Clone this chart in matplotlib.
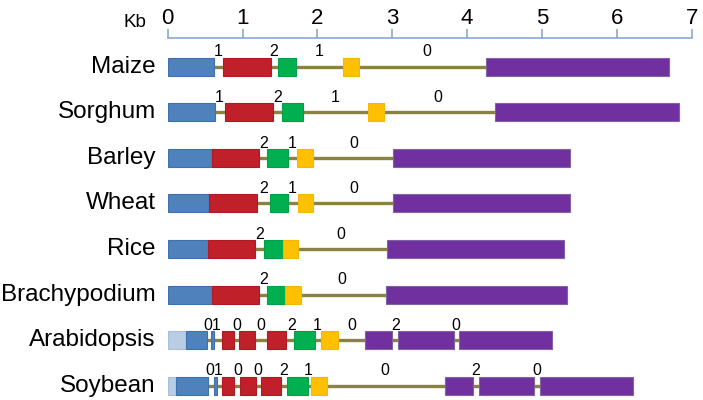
import matplotlib.pyplot as plt
from matplotlib.patches import Rectangle

plt.rcParams['font.family'] = ['Liberation Sans', 'DejaVu Sans']

species = ["Maize", "Sorghum", "Barley", "Wheat", "Rice", "Brachypodium", "Arabidopsis", "Soybean"]

# exons: (start kb, end kb, exon type)
maize_exons = [(0, 0.613, "b"), (0.745, 1.38, "r"), (1.476, 1.711, "g"), (2.343, 2.56, "y"), (4.253, 6.70, "p")]
sorghum_exons = [(0, 0.632, "b"), (0.768, 1.41, "r"), (1.532, 1.806, "g"), (2.678, 2.89, "y"), (4.375, 6.83, "p")]
barley_exons = [(0, 0.59, "b"), (0.59, 1.22, "r"), (1.33, 1.61, "g"), (1.73, 1.94, "y"), (3.01, 5.38, "p")]
wheat_exons = [(0, 0.55, "b"), (0.55, 1.19, "r"), (1.37, 1.61, "g"), (1.74, 1.94, "y"), (3.01, 5.38, "p")]
rice_exons = [(0, 0.54, "b"), (0.54, 1.17, "r"), (1.29, 1.54, "g"), (1.54, 1.74, "y"), (2.93, 5.30, "p")]
brachy_exons = [(0, 0.59, "b"), (0.59, 1.22, "r"), (1.33, 1.57, "g"), (1.57, 1.78, "y"), (2.92, 5.34, "p")]
arabid_exons = [(0, 0.25, "u"), (0.25, 0.52, "b"), (0.58, 0.625, "b"), (0.72, 0.89, "r"), (0.95, 1.17, "r"),
                (1.32, 1.58, "r"), (1.69, 1.97, "g"), (2.05, 2.27, "y"), (2.63, 3.00, "p"), (3.08, 3.82, "p"),
                (3.89, 5.13, "p")]
soy_exons = [(0, 0.11, "u"), (0.11, 0.545, "b"), (0.62, 0.665, "b"), (0.73, 0.89, "r"), (0.97, 1.18, "r"),
             (1.25, 1.51, "r"), (1.59, 1.87, "g"), (1.92, 2.13, "y"), (3.71, 4.08, "p"), (4.16, 4.89, "p"),
             (4.98, 6.22, "p")]

# intron phase labels: (position kb, phase)
maize_phases = [(0.674, "1"), (1.42, "2"), (2.03, "1"), (3.46, "0")]
sorghum_phases = [(0.69, "1"), (1.47, "2"), (2.24, "1"), (3.61, "0")]
barley_phases = [(1.28, "2"), (1.66, "1"), (2.48, "0")]
wheat_phases = [(1.28, "2"), (1.66, "1"), (2.48, "0")]
rice_phases = [(1.23, "2"), (2.31, "0")]
brachy_phases = [(1.28, "2"), (2.32, "0")]
arabid_phases = [(0.59, "01"), (0.92, "0"), (1.245, "0"), (1.65, "2"), (2.0, "1"), (2.46, "0"), (3.05, "2"), (3.85, "0")]
soy_phases = [(0.62, "01"), (0.93, "0"), (1.2, "0"), (1.55, "2"), (1.88, "1"), (2.9, "0"), (4.12, "2"), (4.93, "0")]

genes = [maize_exons, sorghum_exons, barley_exons, wheat_exons, rice_exons, brachy_exons, arabid_exons, soy_exons]
phases = [maize_phases, sorghum_phases, barley_phases, wheat_phases, rice_phases, brachy_phases, arabid_phases, soy_phases]

colors = {"u": "#b9cde5", "b": "#4f81bd", "r": "#c0202a", "g": "#00b050", "y": "#ffc000", "p": "#7030a0"}
edges = {"u": "#a8bfdc", "b": "#3f70b0", "r": "#b01a22", "g": "#00a048", "y": "#f5b800", "p": "#8064a2"}

fig = plt.figure(figsize=(7.03, 4.0), dpi=100)
ax = fig.add_axes([167.7 / 703, 0, (691.7 - 167.7) / 703, 1 - 38.3 / 400])
ax.set_xlim(0, 7)
ax.set_ylim(7.31, -0.623)

h = 0.395
for i, (exons, ph) in enumerate(zip(genes, phases)):
    ax.plot([exons[0][0], exons[-1][0]], [i, i], color="#8a8240", lw=2.4, zorder=1, solid_capstyle="butt")
    for s, e, t in exons:
        ax.add_patch(Rectangle((s, i - h / 2), e - s, h, facecolor=colors[t], edgecolor=edges[t], lw=0.8, zorder=2))
    for x, lab in ph:
        ax.text(x, i - h / 2 - 0.03, lab, ha="center", va="baseline", fontsize=11.5, zorder=3)
    ax.text(-0.16, i, species[i], ha="right", va="center", fontsize=17.5, clip_on=False)

ax.xaxis.tick_top()
ax.set_xticks(range(8))
ax.tick_params(axis="x", direction="out", length=6.5, width=1.1, color="#7aa3d6", labelsize=16, pad=0.5)
ax.set_yticks([])
for side in ["left", "right", "bottom"]:
    ax.spines[side].set_visible(False)
ax.spines["top"].set_color("#7aa3d6")
ax.spines["top"].set_linewidth(1.1)

fig.text(146 / 703, 1 - 27 / 400, "Kb", ha="right", va="baseline", fontsize=13.5)

fig.savefig("out.png", dpi=100)
